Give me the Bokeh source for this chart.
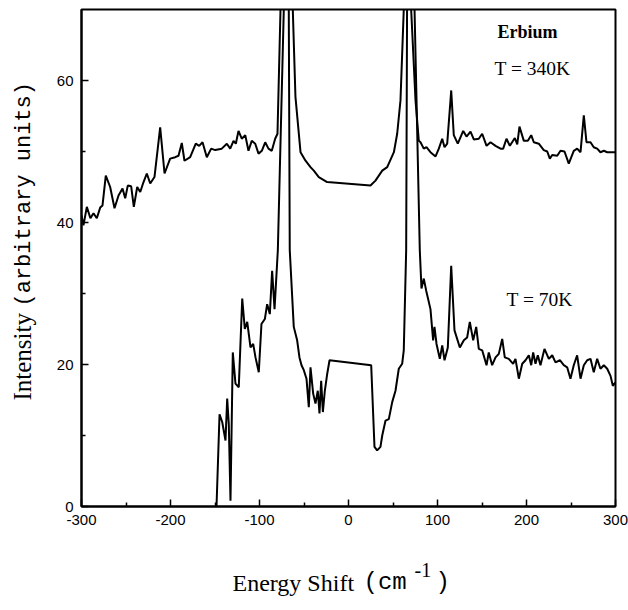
from bokeh.plotting import figure
from bokeh.models import Range1d, Label, FixedTicker, CustomJSTickFormatter
from bokeh.embed import file_html
from bokeh.resources import INLINE

# Energy shift (cm^-1) and intensity for T = 340K
x340 = [-300, -297.8, -294, -290, -286.5, -282.8, -279, -276.4, -272.7, -267.8, -262.9, -258.4, -253.9,
        -250.9, -248, -244.2, -241.2, -237.4, -234, -230.3, -226.6, -222.8, -218, -211.6, -206.7, -200.4,
        -194.7, -191, -187.3, -184.3, -177.9, -171.6, -167.8, -164, -159.2, -154.3, -149.8, -142.4, -136.7,
        -132.9, -129.2, -126.6, -123.6, -119.9, -116, -112.4, -108.7, -104.8, -101.1, -97.4, -93.6, -89.9,
        -86.2, -82.4, -79.8, -76.4, -69.5, -62.6, -59.6, -53.9, -48.3, -42.7, -39, -33.4, -24, 24.7, 30.3,
        37.9, 43.5, 51, 54.7, 58.4, 62.1, 66, 70.4, 75.3, 79, 80.9, 84.6, 87.6, 92.1, 97.8, 101.5, 105.3,
        107.9, 110.9, 114.6, 115.4, 118.3, 122.8, 128.9, 132.6, 137.1, 140.8, 146.4, 150.2, 155.1, 159.6,
        165.2, 170.8, 173.8, 177.5, 181.3, 186.9, 189.6, 192.1, 197, 201.5, 205.3, 208.2, 213.8, 219.4,
        223.3, 226.2, 228.9, 234.5, 238.2, 242.7, 247.5, 253.1, 256.9, 260.7, 264.4, 267.4, 271.9, 275.6,
        279.4, 283.1, 286.9, 290.7, 298.1, 300]
y340 = [41.0, 39.6, 42.2, 40.6, 41.3, 40.6, 42.1, 42.4, 46.6, 45.0, 42.0, 43.8, 44.8, 43.4, 45.2, 45.1,
        42.2, 45.0, 44.3, 45.7, 46.9, 45.5, 46.4, 53.4, 46.9, 49.0, 49.2, 49.4, 51.2, 48.7, 49.2, 51.1,
        50.8, 51.3, 49.2, 50.4, 50.2, 50.4, 51.1, 50.4, 51.5, 51.1, 52.9, 51.8, 52.3, 50.1, 51.5, 51.1,
        49.7, 50.1, 51.3, 50.4, 50.1, 51.8, 52.5, 70, 90, 70, 57.7, 49.9, 48.7, 47.8, 47.3, 46.4, 45.7,
        45.2, 45.9, 47.3, 47.8, 49.9, 52.5, 57.2, 70, 90, 70, 57.2, 51.5, 51.3, 50.4, 50.6, 49.9, 49.3,
        50.4, 51.8, 50.6, 51.1, 57.2, 58.6, 52.3, 51.1, 52.9, 52.1, 52.8, 51.7, 51.8, 52.5, 50.8, 51.3,
        50.8, 50.4, 50.4, 51.8, 50.8, 51.9, 51.0, 53.5, 51.5, 51.5, 52.3, 51.3, 51.1, 50.2, 50.0, 49.0,
        49.5, 49.4, 50.1, 50.0, 48.3, 50.1, 50.4, 49.9, 55.1, 51.3, 51.3, 50.6, 50.4, 49.9, 50.1, 49.9,
        49.9, 49.9]

# Energy shift (cm^-1) and intensity for T = 70K
x70 = [-148.3, -144.9, -141.9, -138.2, -136.3, -134.5, -132.6, -130, -127, -123.3, -119.4, -116.5,
       -113.8, -110.1, -107.1, -104.5, -100.8, -97.8, -94, -91.4, -88.4, -85.8, -83.1, -79.4, -72.7, -70,
       -67.1, -66, -61.5, -57.7, -55.1, -52.8, -50.2, -47.2, -44.6, -42.7, -39.7, -37.1, -34.5, -32.6,
       -30.7, -28.8, -26.6, -23.9, -21.3, 25.5, 29.2, 32.2, 35.9, 37.9, 41.6, 45.3, 49.1, 52.8, 56.5,
       60.3, 62.1, 64.8, 65.8, 70, 74.2, 80.1, 82, 84.6, 87.3, 92.1, 95.1, 96.6, 98.9, 102.6, 105.3,
       107.9, 111.6, 115.4, 119.1, 125.1, 129.6, 133.3, 136.3, 140.1, 143.5, 146.4, 150.2, 155.1, 157.6,
       161.4, 165.2, 168.9, 172.7, 175.6, 180.1, 185, 187.6, 191.4, 195.2, 198.9, 202.6, 205.3, 207.5,
       210.1, 212.7, 215.7, 220.2, 225.1, 228.9, 232.6, 237.5, 241.9, 245.7, 249.4, 253.1, 256.9, 260.7,
       264.4, 268.2, 271.9, 275.6, 279.4, 283.1, 286.9, 290.7, 294.4, 297, 300]
y70 = [0, 13.0, 11.9, 9.3, 15.2, 11.6, 0.8, 21.7, 17.3, 16.8, 29.3, 25.0, 26.0, 22.4, 22.9, 21.0, 18.9,
       25.7, 26.4, 28.5, 27.1, 33.2, 27.8, 36.1, 70, 90, 70, 36.1, 25.3, 23.4, 21.0, 19.9, 19.2, 18.0,
       14.0, 19.6, 15.9, 14.5, 16.3, 13.1, 17.7, 13.3, 16.3, 18.7, 20.6, 19.9, 8.4, 7.9, 8.4, 10.0, 12.1,
       12.3, 14.7, 16.3, 19.4, 20.1, 22.0, 36.1, 70, 90, 70, 36.1, 30.7, 32.1, 30.4, 27.8, 23.4, 25.3,
       22.9, 20.8, 22.7, 20.6, 22.4, 33.9, 24.8, 22.4, 23.4, 23.8, 26.0, 23.4, 25.3, 22.2, 22.0, 19.9,
       21.7, 19.9, 21.0, 21.5, 23.6, 21.0, 20.8, 20.1, 20.8, 18.0, 20.1, 20.6, 21.3, 19.9, 21.7, 20.1,
       21.3, 19.9, 22.2, 20.8, 21.3, 20.3, 20.6, 19.9, 19.6, 18.0, 19.9, 21.3, 18.0, 19.9, 20.6, 20.8,
       18.9, 20.8, 19.4, 19.9, 19.4, 18.4, 17.0, 17.5]

x_ticks = [-300, -200, -100, 0, 100, 200, 300]
y_ticks = [0, 20, 40, 60]
x_minor = [-250, -150, -50, 50, 150, 250]
y_minor = [10, 30, 50]

X0, X1 = -300, 300
Y0, Y1 = 0, 70
FL, FR, FT, FB = 81, 615, 9, 506  # frame pixel edges


def dx(px):
    return X0 + (px - FL) / (FR - FL) * (X1 - X0)


def dy(py):
    return Y0 + (FB - py) / (FB - FT) * (Y1 - Y0)


p = figure(width=628, height=610, output_backend="svg", toolbar_location=None,
           x_range=Range1d(X0, X1), y_range=Range1d(Y0, Y1),
           min_border_left=FL, min_border_right=628 - FR, min_border_top=FT, min_border_bottom=610 - FB)
p.background_fill_color = "white"
p.border_fill_color = "white"
p.grid.visible = False
p.outline_line_color = "black"
p.outline_line_width = 2

fmt = CustomJSTickFormatter(code="return tick.toString();")
for ax in (p.xaxis[0], p.yaxis[0]):
    ax.axis_line_width = 2
    ax.major_tick_in = 7
    ax.major_tick_out = 0
    ax.minor_tick_in = 4
    ax.minor_tick_out = 0
    ax.major_tick_line_width = 1.5
    ax.minor_tick_line_width = 1.5
    ax.major_label_text_font = "Liberation Sans"
    ax.major_label_text_font_size = "15px"
    ax.major_label_text_color = "black"
    ax.major_label_standoff = 8
    ax.formatter = fmt

p.xaxis[0].ticker = FixedTicker(ticks=x_ticks, minor_ticks=x_minor)
p.yaxis[0].ticker = FixedTicker(ticks=y_ticks, minor_ticks=y_minor)

p.line(x340, y340, line_color="black", line_width=2)
p.line(x70, y70, line_color="black", line_width=2)

serif = "Liberation Serif"
mono = "Liberation Mono"


def dlabel(px, py, **kw):
    return Label(x=dx(px), y=dy(py), text_baseline="alphabetic", text_align="left",
                 text_color="black", **kw)


p.add_layout(dlabel(497, 31, text="Erbium", text_font=serif, text_font_style="bold", text_font_size="18px"))
p.add_layout(dlabel(494, 68, text="T = 340K", text_font=serif, text_font_size="19.5px"))
p.add_layout(dlabel(506, 299, text="T = 70K", text_font=serif, text_font_size="19.5px"))

# y axis title (mixed fonts), placed in the left side panel
p.add_layout(dlabel(22, 400, text="Intensity", text_font=serif, text_font_size="25px",
                    angle=90, angle_units="deg"), "left")
p.add_layout(dlabel(24, 306, text="(arbitrary units)", text_font=mono, text_font_size="22px",
                    angle=90, angle_units="deg"), "left")

# x axis title (mixed fonts), placed in the bottom side panel
p.add_layout(dlabel(232, 582, text="Energy Shift", text_font=serif, text_font_size="24px"), "below")
p.add_layout(dlabel(363, 582, text="(cm\u00a0\u00a0)", text_font=mono, text_font_size="24px"), "below")
p.add_layout(dlabel(414, 569, text="-1", text_font=serif, text_font_size="20px"), "below")

open("out.html", "w").write(file_html(p, INLINE))
